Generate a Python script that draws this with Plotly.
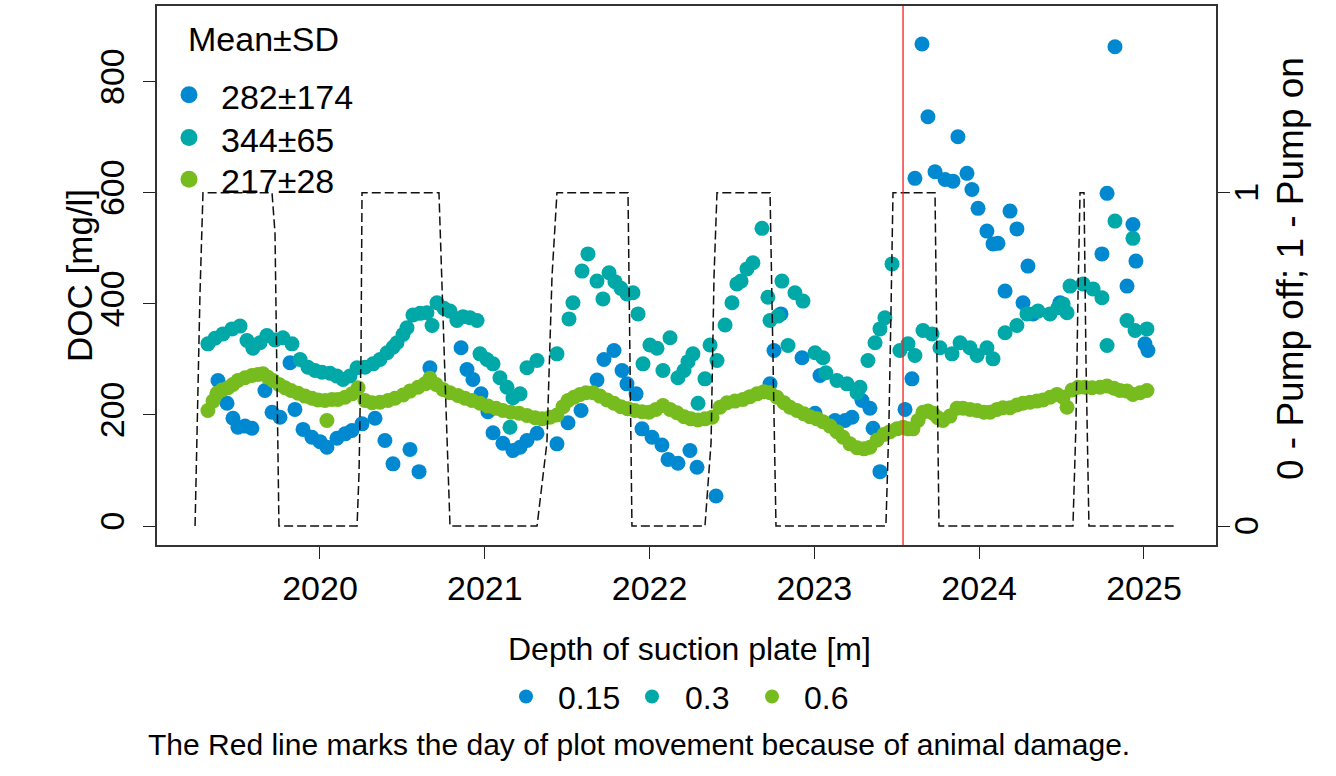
import plotly.graph_objects as go

# ---------------- data (decimal years, DOC mg/l) ----------------
blue_t = [2019.381, 2019.436, 2019.472, 2019.502, 2019.545, 2019.587, 2019.666, 2019.709, 2019.757,
          2019.818, 2019.848, 2019.897, 2019.951, 2020.000, 2020.042, 2020.103, 2020.152, 2020.194,
          2020.255, 2020.334, 2020.394, 2020.443, 2020.546, 2020.601, 2020.667, 2020.856, 2020.892,
          2020.928, 2020.977, 2021.019, 2021.050, 2021.110, 2021.171, 2021.214, 2021.256, 2021.317,
          2021.438, 2021.505, 2021.584, 2021.681, 2021.723, 2021.784, 2021.833, 2021.863, 2021.918,
          2021.954, 2022.015, 2022.075, 2022.112, 2022.172, 2022.245, 2022.288, 2022.403, 2022.731,
          2022.755, 2022.797, 2022.925, 2023.004, 2023.034, 2023.125, 2023.186, 2023.228, 2023.289,
          2023.337, 2023.356, 2023.398, 2023.550, 2023.592, 2023.610, 2023.653, 2023.689, 2023.732,
          2023.793, 2023.841, 2023.871, 2023.926, 2023.956, 2023.993, 2024.047, 2024.084, 2024.114,
          2024.157, 2024.187, 2024.229, 2024.266, 2024.296, 2024.327, 2024.490, 2024.745, 2024.776,
          2024.824, 2024.897, 2024.933, 2024.951, 2025.006, 2025.024]
blue_v = [262, 221, 194, 178, 180, 176, 244, 205, 196,
          294, 210, 174, 160, 152, 142, 158, 166, 172,
          184, 194, 154, 112, 138, 98, 285, 321, 282,
          264, 238, 206, 168, 149, 136, 142, 154, 167,
          148, 186, 208, 263, 300, 316, 280, 256, 238,
          175, 160, 146, 120, 113, 136, 106, 54, 256,
          316, 382, 303, 203, 271, 190, 190, 196, 226,
          212, 176, 98, 210, 265, 626, 868, 737, 638,
          624, 621, 701, 635, 606, 572, 531, 508, 509,
          423, 567, 535, 402, 468, 382, 402, 490, 599,
          863, 432, 543, 477, 328, 316]

teal_t = [2019.320, 2019.363, 2019.411, 2019.466, 2019.515, 2019.557, 2019.593, 2019.636, 2019.678,
          2019.727, 2019.775, 2019.830, 2019.879, 2019.927, 2019.970, 2020.012, 2020.061, 2020.103,
          2020.140, 2020.182, 2020.225, 2020.273, 2020.322, 2020.364, 2020.407, 2020.443, 2020.467,
          2020.504, 2020.528, 2020.564, 2020.607, 2020.649, 2020.680, 2020.710, 2020.752, 2020.789,
          2020.831, 2020.868, 2020.910, 2020.953, 2020.971, 2021.013, 2021.050, 2021.092, 2021.135,
          2021.153, 2021.171, 2021.214, 2021.256, 2021.317, 2021.438, 2021.511, 2021.535, 2021.590,
          2021.626, 2021.681, 2021.717, 2021.754, 2021.790, 2021.826, 2021.863, 2021.899, 2021.930,
          2021.960, 2022.002, 2022.045, 2022.081, 2022.124, 2022.172, 2022.209, 2022.233, 2022.263,
          2022.294, 2022.336, 2022.367, 2022.409, 2022.458, 2022.500, 2022.530, 2022.555, 2022.591,
          2022.627, 2022.682, 2022.718, 2022.731, 2022.779, 2022.803, 2022.840, 2022.882, 2022.931,
          2023.004, 2023.052, 2023.070, 2023.137, 2023.198, 2023.259, 2023.277, 2023.325, 2023.368,
          2023.398, 2023.428, 2023.471, 2023.519, 2023.568, 2023.610, 2023.659, 2023.714, 2023.762,
          2023.835, 2023.884, 2023.944, 2023.987, 2024.047, 2024.084, 2024.157, 2024.229, 2024.290,
          2024.357, 2024.430, 2024.478, 2024.509, 2024.533, 2024.551, 2024.630, 2024.691, 2024.745,
          2024.776, 2024.824, 2024.897, 2024.933, 2024.946, 2025.018]
teal_v = [328, 338, 346, 355, 360, 334, 320, 330, 343,
          335, 339, 328, 300, 286, 280, 277, 275, 270,
          264, 270, 285, 286, 292, 300, 312, 322, 330,
          345, 357, 380, 383, 384, 361, 402, 392, 387,
          370, 377, 375, 370, 310, 300, 292, 267, 250,
          178, 231, 238, 285, 298, 310, 373, 402, 459,
          490, 441, 409, 456, 440, 428, 418, 420, 382,
          292, 326, 320, 280, 339, 267, 280, 296, 310,
          221, 265, 326, 298, 362, 402, 436, 441, 463,
          474, 536, 412, 370, 378, 441, 325, 420, 405,
          312, 303, 276, 262, 256, 240, 250, 298, 330,
          355, 375, 472, 316, 328, 307, 352, 346, 321,
          310, 330, 321, 307, 321, 301, 348, 361, 382,
          387, 382, 393, 400, 384, 432, 436, 427, 411,
          325, 549, 370, 518, 352, 355]

green_t = [2019.320, 2019.351, 2019.375, 2019.405, 2019.442, 2019.472, 2019.502, 2019.545, 2019.587,
           2019.624, 2019.654, 2019.684, 2019.715, 2019.751, 2019.788, 2019.824, 2019.867, 2019.909,
           2019.951, 2019.988, 2020.030, 2020.042, 2020.073, 2020.109, 2020.152, 2020.194, 2020.231,
           2020.273, 2020.316, 2020.364, 2020.413, 2020.455, 2020.504, 2020.546, 2020.595, 2020.637,
           2020.667, 2020.704, 2020.746, 2020.789, 2020.837, 2020.880, 2020.922, 2020.971, 2021.019,
           2021.068, 2021.110, 2021.159, 2021.208, 2021.256, 2021.305, 2021.347, 2021.396, 2021.438,
           2021.475, 2021.505, 2021.541, 2021.578, 2021.614, 2021.657, 2021.699, 2021.742, 2021.784,
           2021.826, 2021.869, 2021.911, 2021.954, 2021.996, 2022.039, 2022.081, 2022.124, 2022.166,
           2022.209, 2022.251, 2022.294, 2022.336, 2022.379, 2022.427, 2022.470, 2022.518, 2022.567,
           2022.609, 2022.652, 2022.694, 2022.731, 2022.773, 2022.816, 2022.852, 2022.894, 2022.937,
           2022.973, 2023.016, 2023.052, 2023.095, 2023.137, 2023.174, 2023.216, 2023.259, 2023.301,
           2023.337, 2023.380, 2023.422, 2023.459, 2023.501, 2023.538, 2023.568, 2023.598, 2023.629,
           2023.659, 2023.689, 2023.720, 2023.750, 2023.780, 2023.823, 2023.865, 2023.902, 2023.944,
           2023.987, 2024.029, 2024.066, 2024.108, 2024.144, 2024.187, 2024.229, 2024.266, 2024.308,
           2024.351, 2024.387, 2024.430, 2024.472, 2024.509, 2024.533, 2024.563, 2024.600, 2024.642,
           2024.685, 2024.733, 2024.776, 2024.818, 2024.854, 2024.897, 2024.933, 2024.976, 2025.018]
green_v = [208, 225, 239, 245, 249, 255, 262, 267, 271,
           273, 274, 268, 262, 255, 249, 244, 239, 234,
           230, 227, 226, 190, 228, 228, 232, 238, 249,
           226, 222, 223, 226, 230, 236, 243, 250, 256,
           266, 255, 246, 240, 235, 230, 226, 221, 216,
           212, 208, 205, 203, 199, 195, 193, 196, 200,
           215, 226, 232, 237, 240, 240, 234, 227, 221,
           215, 211, 208, 206, 205, 210, 217, 210, 204,
           197, 193, 191, 193, 196, 214, 222, 225, 228,
           233, 238, 242, 240, 232, 222, 214, 208, 202,
           197, 193, 188, 180, 170, 160, 148, 141, 139,
           142, 155, 165, 170, 175, 178, 175, 175, 190,
           205, 207, 203, 195, 190, 198, 212, 212, 210,
           208, 205, 205, 210, 213, 213, 218, 221, 223,
           225, 227, 232, 237, 232, 214, 245, 250, 250,
           249, 250, 252, 248, 244, 243, 237, 240, 244]

pump_t = [2019.242, 2019.254, 2019.272, 2019.290, 2019.709, 2019.727, 2019.739, 2019.751,
          2020.225, 2020.237, 2020.249, 2020.255, 2020.722, 2020.740, 2020.765, 2020.789,
          2021.317, 2021.377, 2021.408, 2021.438, 2021.869, 2021.881, 2021.893,
          2022.336, 2022.373, 2022.391, 2022.409, 2022.731, 2022.749, 2022.767,
          2023.434, 2023.452, 2023.465, 2023.477, 2023.732, 2023.744, 2023.756,
          2024.569, 2024.587, 2024.600, 2024.612, 2024.636, 2024.648, 2024.666, 2025.188]
pump_v = [0, 0.3, 0.7, 1, 1, 0.88, 0.4, 0,
          0, 0.16, 0.52, 1, 1, 0.7, 0.35, 0,
          0, 0.25, 0.75, 1, 1, 0.5, 0,
          0, 0.25, 0.75, 1, 1, 0.5, 0,
          0, 0.3, 0.65, 1, 1, 0.5, 0,
          0, 0.3, 0.7, 1, 1, 0.5, 0, 0]

move_day = 2023.538

depth_labels = ["0.15", "0.3", "0.6"]
stat_labels = ["282±174", "344±65", "217±28"]
colors = ["#0089D0", "#00A8A8", "#77BC1F"]

year_ticks = [2020, 2021, 2022, 2023, 2024, 2025]
doc_ticks = [0, 200, 400, 600, 800]
pump_ticks = [0, 1]

# ---------------- layout geometry ----------------
W, H = 1336, 776
L, R, T, B = 157, 1216, 4, 545
FONT = "Liberation Sans, Arial, sans-serif"


def px(x):
    return (x - L) / (R - L)


def py(y):
    return (B - y) / (B - T)


fig = go.Figure()
series = [(blue_t, blue_v), (teal_t, teal_v), (green_t, green_v)]
for (t, v), name, c in zip(series, depth_labels, colors):
    fig.add_trace(go.Scatter(x=t, y=v, mode="markers", name=name, showlegend=False,
                             marker=dict(color=c, size=15, line=dict(width=0))))

fig.add_trace(go.Scatter(x=pump_t, y=pump_v, mode="lines", yaxis="y2", showlegend=False,
                         line=dict(color="#111111", width=1.5, dash="9px,4px")))

shapes = [dict(type="line", xref="x", yref="paper", x0=move_day, x1=move_day, y0=0, y1=1,
               line=dict(color="#FF1A1A", width=1.3), layer="above")]
annotations = []

# top-left legend (Mean±SD)
annotations.append(dict(text="Mean±SD", xref="paper", yref="paper", x=px(186), y=py(37),
                        xanchor="left", yanchor="middle", showarrow=False,
                        font=dict(size=34, color="black", family=FONT)))
for i, (lab, c) in enumerate(zip(stat_labels, colors)):
    yy = [93, 136, 178][i]
    shapes.append(dict(type="circle", xref="paper", yref="paper", xsizemode="pixel",
                       ysizemode="pixel", xanchor=px(189), yanchor=py(yy),
                       x0=-8.5, x1=8.5, y0=-8.5, y1=8.5, fillcolor=c, line=dict(width=0)))
    annotations.append(dict(text=lab, xref="paper", yref="paper", x=px(219), y=py(yy + 2),
                            xanchor="left", yanchor="middle", showarrow=False,
                            font=dict(size=34, color="black", family=FONT)))

# bottom legend (depth)
annotations.append(dict(text="Depth of suction plate [m]", xref="paper", yref="paper",
                        x=px(689), y=py(649), xanchor="center", yanchor="middle", showarrow=False,
                        font=dict(size=32, color="black", family=FONT)))
for lab, c, dx, tx in zip(depth_labels, colors, [526, 652, 772], [556, 683, 802]):
    shapes.append(dict(type="circle", xref="paper", yref="paper", xsizemode="pixel",
                       ysizemode="pixel", xanchor=px(dx), yanchor=py(697),
                       x0=-7, x1=7, y0=-7, y1=7, fillcolor=c, line=dict(width=0)))
    annotations.append(dict(text=lab, xref="paper", yref="paper", x=px(tx), y=py(699),
                            xanchor="left", yanchor="middle", showarrow=False,
                            font=dict(size=32, color="black", family=FONT)))

annotations.append(dict(text="The Red line marks the day of plot movement because of animal damage.",
                        xref="paper", yref="paper", x=px(146), y=py(745), xanchor="left",
                        yanchor="middle", showarrow=False,
                        font=dict(size=30, color="black", family=FONT)))

# axis titles
annotations.append(dict(text="DOC [mg/l]", xref="paper", yref="paper", x=px(80), y=py(275),
                        xanchor="center", yanchor="middle", textangle=-90, showarrow=False,
                        font=dict(size=35, color="black", family=FONT)))
annotations.append(dict(text="0 - Pump off; 1 - Pump on", xref="paper", yref="paper", x=px(1290),
                        y=py(268), xanchor="center", yanchor="middle", textangle=-90,
                        showarrow=False, font=dict(size=37, color="black", family=FONT)))

# right-axis tick labels (rotated, placed next to the y2 ticks)
for v in pump_ticks:
    annotations.append(dict(text=str(v), xref="paper", yref="y2", x=px(1246), y=v,
                            xanchor="center", yanchor="middle", textangle=-90, showarrow=False,
                            font=dict(size=34, color="black", family=FONT)))

axis_common = dict(showgrid=False, zeroline=False, ticks="outside", ticklen=12, tickwidth=1.3,
                   tickcolor="#222", showline=True, linecolor="#333", linewidth=1.5,
                   tickfont=dict(size=34, color="black", family=FONT))

fig.update_layout(
    width=W, height=H, paper_bgcolor="white", plot_bgcolor="white",
    margin=dict(l=L, r=W - R, t=T, b=H - B, pad=0),
    xaxis=dict(range=[2019.011, 2025.437], tickvals=year_ticks, mirror=True,
               ticklabelstandoff=0, **axis_common),
    yaxis=dict(range=[-34.1, 936.3], tickvals=doc_ticks, tickangle=-90,
               ticklabelstandoff=6, **axis_common),
    yaxis2=dict(range=[-0.0568, 1.5605], tickvals=pump_ticks, overlaying="y",
                side="right", showticklabels=False, **axis_common),
    shapes=shapes, annotations=annotations, showlegend=False,
)

fig.write_html("out.html", config={"displayModeBar": False},
               post_script="document.body.style.margin='0';document.body.style.overflow='hidden';")
